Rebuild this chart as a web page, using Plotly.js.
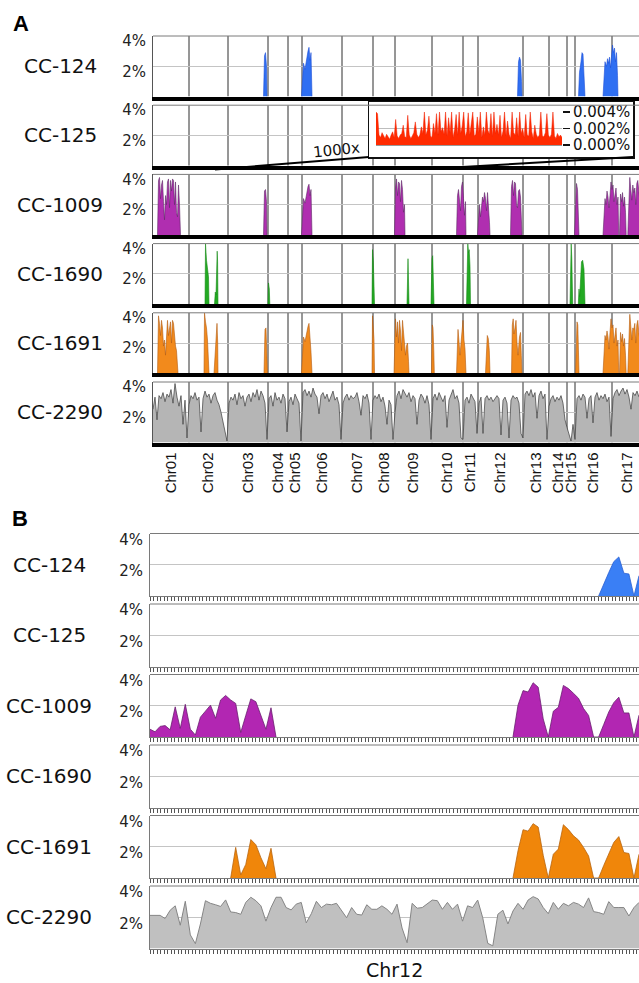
<!DOCTYPE html>
<html><head><meta charset="utf-8">
<script src="https://cdn.plot.ly/plotly-3.0.1.min.js"></script>
<style>html,body{margin:0;padding:0;background:#fff}#chart{width:639px;height:983px}</style>
</head><body><div id="chart"></div>
<script>
// ---------------- DATA ----------------
const samples = ['CC-124','CC-125','CC-1009','CC-1690','CC-1691','CC-2290'];
const chromNames = ['Chr01','Chr02','Chr03','Chr04','Chr05','Chr06','Chr07','Chr08','Chr09','Chr10','Chr11','Chr12','Chr13','Chr14','Chr15','Chr16','Chr17'];
// chromosome lengths in genome map bins (~225 kb each)
const chromLen = [36,39,40,20,14,40,31,22,37,31,15,45,26,18,8,37,30];
const genomeShown = 486; // bins visible in panel A
const pctTicks = [2,4];
const pctTickText = ['2%','4%'];

// Panel A (whole genome), % per position (bins)
const A124Pos = [110.5,111.5,112.5,113.5,114,null,148.5,149.5,150.5,152,153.5,155,156,157,158,159,null,364.5,365.5,366.5,367.5,368.5,369,null,425.5,426.5,428,429,430,431,432,null,450,451,452,453.5,454.5,455.5,456.5,457.5,458.5,459.5,460.5,461.5,462.5,463.5,464.5,465];
const A124Pct = [0,2.7,2.9,2.0,0,null,0,1.5,2.2,1.8,2.6,3.0,3.25,2.4,2.9,0,null,0,2.3,2.6,2.4,1.0,0,null,0,1.6,2.3,2.9,2.8,1.5,0,null,0,1.8,2.3,2.0,2.5,2.2,2.6,1.9,3.1,3.4,2.9,3.2,2.3,2.9,1.4,0];

const A1009Pos = [4.5,5.5,6.5,7.5,8.5,9.5,10.5,11.5,12.5,13.5,14.5,15.5,16.5,17.5,18.5,19.5,20.5,21.5,22.5,23.5,24.5,25.5,26.5,27.5,null,
110.5,111.5,112.5,113.5,114,null,
148.5,149.5,150.5,152,153.5,155,156,157,158,159,null,
241.5,242.5,243.5,244.5,245.5,246.5,247.5,248.5,249.5,250.5,251.5,252,null,
303.5,304.5,305.5,306.5,307.5,308.5,309.5,310.5,311.5,312.5,313,null,
324.5,325.5,326.5,327.5,328.5,329.5,330.5,331.5,332.5,333.5,334.5,335.5,336.5,337,null,
357.5,358.5,359.5,360.5,361.5,362.5,363.5,364.5,365.5,366.5,367.5,368.5,369,null,
421.5,422.5,423.5,424.5,425.5,426,null,
450,451,452,453,454,455,456,457,458,459,460,461,462,463,464,465,465.7,null,
466.5,467.5,468.5,469.5,470.5,471.5,472.5,473.2,null,
474.8,475.8,476.8,477.8,478.8,479.8,480.8,481.8,482.8,483.8,484.8,485.8,486.5];
const A1009Pct = [0,3.6,3.8,2.4,3.3,3.6,2.2,1.0,2.6,2.0,3.5,3.7,1.8,3.6,2.9,3.7,3.6,2.0,3.5,1.5,1.2,3.3,2.0,0,null,
0,2.9,3.0,2.2,0,null,
0,1.8,2.4,2.1,2.8,3.2,3.35,2.6,3.0,0,null,
0,3.1,3.7,2.6,3.5,3.4,2.2,3.6,3.0,1.5,2.0,0,null,
0,2.6,3.0,2.0,1.6,3.2,3.5,2.4,1.3,2.2,0,null,
0,1.4,2.0,1.2,1.8,2.5,2.2,2.8,2.4,1.6,2.8,2.0,0.8,0,null,
0,3.2,3.6,2.6,3.5,3.4,2.0,1.8,2.9,3.0,2.5,1.0,0,null,
0,2.5,3.4,3.0,1.6,0,null,
0,1.6,2.4,2.0,2.9,2.5,1.8,2.6,3.5,3.0,3.3,2.2,2.8,3.1,2.0,2.5,0,null,
0,2.7,2.2,2.8,1.9,2.5,1.5,0,null,
0,2.6,3.8,3.0,2.3,3.3,2.8,3.1,2.0,3.4,3.6,2.9,2.5];

const A1690Pos = [52,52.5,53.5,54.5,55.5,56,null,61.5,62.3,63,63.5,64.2,64.6,65,null,115,115.5,116.3,116.8,null,219,219.5,220.3,221,221.5,null,254,254.5,255,255.7,256,null,278,278.5,279,279.7,280.3,281,null,313.5,314.2,314.8,315.5,316.2,317,317.5,null,417,417.5,418.2,418.8,419.3,419.7,null,425.3,426,426.7,427.5,428.5,429.7,431,432];
const A1690Pct = [0,4.0,2.9,2.5,1.8,0,null,0,0.8,0.6,2.5,3.5,2.8,0,null,0,1.4,1.0,0,null,0,3.6,2.9,1.0,0,null,0,2.5,3.0,1.0,0,null,0,2.0,3.0,3.2,1.5,0,null,0,3.0,4.0,3.4,3.6,2.5,0,null,0,2.0,4.0,3.0,1.0,0,null,0,1.0,0.5,2.0,2.8,2.9,2.3,0];

const A1691Pos = [4.5,5.5,6.5,7.5,8.5,9.5,10.5,11.5,12.5,13.5,14.5,15.5,16.5,17.5,18.5,19.5,20.5,21.5,22.5,23.5,24.5,25,null,
51,51.5,52.5,53.5,54.5,55.5,56,null,
61,62,63,64,64.7,65,null,
111,112,113,114,114.5,null,
148.5,149.5,150.5,152,153.5,155,156,157,158,159,null,
219,219.5,220.3,221,221.5,null,
241,241.5,242.5,243.5,244.5,245.5,246.5,247.5,248.5,249.5,250.5,251.5,252.5,253.5,254.5,255.5,256,null,
278.5,279.3,280,280.8,281.3,null,
303.5,304.3,305,306,307,308,309,310,311,312,313,null,
332.5,333.3,334.3,335.3,336.3,337,null,
358.5,359.3,360.2,361,362,363,364,365,366.5,367.5,368.3,369,null,
422.5,423.3,424,424.8,425.5,426,null,
450,451,452,453,454,455,456,457,458,459,460,461,462,463,464,465,465.7,null,
466.5,467.5,468.5,469.5,470.5,471.5,472.5,473.2,null,
474.8,475.8,476.8,477.8,478.8,479.8,480.8,481.8,482.8,483.8,484.8,485.8,486.5];
const A1691Pct = [0,3.8,3.3,2.5,3.5,3.0,1.8,2.2,1.2,2.8,3.5,2.5,3.1,3.4,2.0,3.5,3.3,2.2,1.8,1.5,0.8,0,null,
0,4.0,3.4,3.0,2.2,1.2,0,null,
0,1.3,2.5,3.3,2.0,0,null,
0,2.9,3.0,1.5,0,null,
0,1.9,2.4,2.1,2.7,3.1,3.3,2.6,1.4,0,null,
0,3.8,3.0,2.2,0,null,
0,2.0,3.6,2.4,3.4,2.0,3.5,2.8,1.5,3.5,2.7,1.8,1.2,1.8,2.0,0.8,0,null,
0,3.2,3.0,1.5,0,null,
0,2.4,2.9,2.1,1.2,2.0,3.0,3.5,2.2,1.6,0,null,
0,1.5,2.5,2.3,1.5,0,null,
0,3.2,3.6,2.6,3.0,3.5,2.0,1.2,2.4,2.7,1.2,0,null,
0,2.4,3.4,3.2,1.2,0,null,
0,1.5,2.5,2.2,2.8,2.4,1.6,2.7,3.6,3.0,3.2,2.0,2.6,3.0,1.8,2.2,0,null,
0,2.7,2.1,2.6,1.8,2.3,1.2,0,null,
0,2.8,3.9,3.1,2.2,3.0,2.9,3.3,2.0,3.2,3.5,2.7,2.4];

// CC-2290: one value every 2 bins from bin 0
const A2290Pct = [2.2,3.0,1.5,3.1,2.9,3.3,2.7,3.2,3.0,3.5,2.6,3.9,3.0,2.4,3.1,1.2,2.8,0.3,
2.5,3.1,2.9,3.3,2.8,3.0,0.7,2.9,3.4,3.0,3.2,2.6,3.1,3.3,2.8,2.5,2.0,1.4,0.8,0.1,
2.6,3.0,2.8,3.2,2.5,3.3,2.9,3.1,2.4,3.0,3.2,2.7,3.3,3.0,3.5,2.8,3.4,3.1,2.6,0.2,
2.9,3.1,2.4,3.3,2.8,3.0,2.6,3.2,2.9,0.7,
2.7,3.0,2.5,3.2,2.9,2.6,0.1,
3.3,3.5,3.1,3.4,3.0,3.6,3.2,3.0,1.9,3.1,3.3,2.9,3.2,2.7,3.1,3.4,2.8,3.0,2.5,0.2,
2.6,3.0,3.2,2.8,3.1,2.9,3.0,3.3,2.7,1.8,3.1,2.9,3.2,2.6,0.2,
2.8,3.1,2.9,3.2,2.7,3.0,2.4,1.2,2.8,2.5,0.2,
2.0,3.1,3.4,2.9,3.5,3.2,3.0,3.3,2.7,3.1,2.9,1.2,2.8,3.2,3.0,2.6,3.1,2.5,0.2,
2.9,3.2,2.8,3.3,3.0,2.7,3.1,1.0,2.8,3.2,3.5,2.9,3.1,2.6,0.3,
0.2,2.8,3.0,2.6,3.2,2.9,2.7,0.6,
2.6,3.0,0.6,2.9,3.1,2.8,3.0,2.7,2.9,3.1,2.9,0.5,2.8,3.0,2.6,0.3,2.8,3.1,2.9,3.0,2.6,0.6,
0.3,3.2,3.4,3.1,3.5,3.0,3.3,1.6,3.1,3.4,2.9,3.2,0.2,
2.4,2.9,3.1,2.7,3.0,2.8,3.1,2.6,1.5,
1.0,0.5,0.1,1.2,
0.2,2.9,3.1,2.8,3.2,3.0,1.6,2.9,3.1,1.3,3.0,3.3,2.8,3.1,2.9,3.2,2.7,3.0,0.4,
2.9,3.3,3.5,3.1,3.4,3.6,3.2,3.5,3.0,2.2,3.3,3.1,3.4,3.0];

// CC-125 inset (1000x), % values, one every 4 bins
const A125Pct = [0.004,0.0038,0.0012,0.0009,0.0015,0.0011,0.0008,0.0013,0.001,0.0007,0.0012,0.0016,0.0009,0.0031,0.0011,0.0008,0.0012,0.0014,0.0024,0.001,0.0009,0.0036,0.0012,0.0008,0.0011,0.0015,0.0028,0.0013,0.0009,0.0012,0.0022,0.0014,0.004,0.0012,0.0018,0.0035,0.0011,0.0009,0.0026,0.0014,0.0038,0.0012,0.004,0.0016,0.0021,0.0013,0.004,0.0011,0.0033,0.0015,0.004,0.0009,0.0019,0.0037,0.0012,0.004,0.0014,0.0023,0.004,0.001,0.0016,0.0039,0.0012,0.0028,0.004,0.0011,0.0013,0.0034,0.0015,0.004,0.0009,0.0022,0.0012,0.004,0.0018,0.0013,0.0038,0.001,0.004,0.0014,0.0025,0.0012,0.0036,0.0009,0.0017,0.004,0.0011,0.0029,0.0013,0.0008,0.004,0.0015,0.0012,0.0033,0.001,0.004,0.0014,0.002,0.0009,0.0037,0.0012,0.0011,0.004,0.0016,0.0008,0.0024,0.0013,0.0009,0.0012,0.004,0.0011,0.001,0.0015,0.0038,0.0012,0.0009,0.0013,0.004,0.0011,0.0008,0.0014,0.001,0.0012,0.0009];
const insetTicks = [0,0.002,0.004];
const insetTickText = ['0.000%','0.002%','0.004%'];

// Panel B (Chr12, Mb)
const chr12Len = 9.7;
const B124Pos = [8.9,9.0,9.1,9.2,9.3,9.4,9.5,9.6,9.7];
const B124Pct = [0,0.8,1.5,2.2,2.5,1.46,1.41,0,1.3];
const B1009Pos = [0,0.1,0.2,0.3,0.4,0.5,0.6,0.7,0.8,0.9,1.0,1.1,1.2,1.3,1.4,1.5,1.6,1.7,1.8,1.9,2.0,2.1,2.2,2.3,2.4,2.5,null,7.2,7.3,7.4,7.5,7.6,7.7,7.8,7.9,8.0,8.1,8.2,8.3,8.4,8.5,8.6,8.7,8.8,8.9,9.0,9.1,9.2,9.3,9.4,9.5,9.6,9.7];
const B1009Pct = [0.5,0.33,0.68,0.73,0.46,1.93,0.55,2.09,0.5,0.13,1.27,1.65,2.04,1.2,2.37,2.66,2.37,2.15,0.29,1.38,2.44,2.26,1.38,0.5,1.87,0,null,0,2.04,2.97,2.88,3.47,3.19,1.16,0,1.65,1.9,3.3,3.1,2.8,2.48,1.82,1.38,0,0,0.8,1.6,2.2,2.55,1.54,1.54,0,1.4];
const B1691Pos = [1.6,1.7,1.8,1.9,2.0,2.1,2.2,2.3,2.4,2.5,null,7.2,7.3,7.4,7.5,7.6,7.7,7.8,7.9,8.0,8.1,8.2,8.3,8.4,8.5,8.6,8.7,8.8,8.9,9.0,9.1,9.2,9.3,9.4,9.5,9.6,9.7];
const B1691Pct = [0,1.96,0.2,0.87,2.46,2.13,1.3,0.59,1.9,0,null,0,1.74,3.09,3.0,3.48,3.26,1.45,0,1.52,1.85,3.41,3.1,2.7,2.43,1.96,1.41,0,0,0.8,1.6,2.28,2.65,1.63,1.57,0,1.52];
// CC-2290, 100-kb windows from 0 Mb
const B2290Pct = [2.12,2.12,2.12,1.92,2.45,2.73,1.49,3.02,0.87,0.31,1.57,3.06,2.89,2.8,2.69,3.11,2.34,2.3,2.19,2.95,3.28,3.06,2.73,1.75,2.62,3.28,3.28,2.62,2.47,2.84,2.95,1.64,2.23,3.02,
2.62,2.84,2.8,2.89,2.4,1.97,2.62,2.19,2.14,2.8,2.51,2.51,2.73,2.51,2.19,2.84,1.31,0.37,2.89,2.58,2.62,2.84,3.1,3.06,2.51,2.95,2.51,2.84,1.75,2.73,2.62,3.1,1.97,0.33,0.17,2.19,2.45,1.57,2.4,2.89,2.51,3.1,3.32,3.17,2.62,2.23,2.95,2.51,2.89,2.73,2.95,2.84,2.62,3.24,2.36,2.3,2.19,3.0,2.62,2.62,2.62,2.08,2.62,2.95];

// ---------------- LAYOUT ----------------
const W = 639, H = 983;
const fx = px => px / W;
const fy = py => 1 - py / H;

const bounds = []; const centers = [];
let acc = 0;
chromLen.forEach(L => { centers.push(acc + L / 2); acc += L; bounds.push(acc); });

const layout = {
  width: W, height: H, margin: {l:0, r:0, t:0, b:0},
  paper_bgcolor: '#fff', plot_bgcolor: '#fff', showlegend: false, hovermode: false,
  font: {family: 'DejaVu Sans', color: '#111'},
  shapes: [], annotations: []
};
const traces = [];

const colA = {
  'CC-124': {fill:'#2f6ff2', line:'#1d4fd6'},
  'CC-1009': {fill:'#b02eb0', line:'#5e2a66'},
  'CC-1690': {fill:'#22aa22', line:'#148a14'},
  'CC-1691': {fill:'#f28a1c', line:'#b35d12'},
  'CC-2290': {fill:'#b5b5b5', line:'#3a3a3a'}
};

function axName(n, k){ return n === 1 ? k : k + n; }

// Panel A rows
const aTop0 = 36, aStep = 69.2, aH = 60.5, aLeft = 153;
const aData = {
  'CC-124': {x:A124Pos, y:A124Pct},
  'CC-1009': {x:A1009Pos, y:A1009Pct},
  'CC-1690': {x:A1690Pos, y:A1690Pct},
  'CC-1691': {x:A1691Pos, y:A1691Pct}
};
samples.forEach((s, i) => {
  const n = i + 1;
  const top = aTop0 + aStep * i, bot = top + aH;
  const xa = axName(n,'x'), ya = axName(n,'y');
  layout[axName(n,'xaxis')] = {
    domain:[fx(aLeft), 1], range:[0, genomeShown], anchor: ya, fixedrange:true,
    showgrid:false, zeroline:false, showline:true, linecolor:'#000', linewidth:4,
    ticks:'', showticklabels: i === 5, tickmode:'array', tickvals: centers, ticktext: chromNames,
    tickangle:-90, tickfont:{family:'Liberation Sans', size:15, color:'#111'}
  };
  layout[axName(n,'yaxis')] = {
    domain:[fy(bot), fy(top)], range:[0,4], anchor: xa, fixedrange:true,
    tickmode:'array', tickvals: pctTicks, ticktext: pctTickText, ticks:'',
    showgrid:true, gridcolor:'#c4c4c4', gridwidth:1, zeroline:false,
    showline:true, linecolor:'#555', linewidth:1,
    tickfont:{size:15, color:'#222'}, ticklabelshift:5, ticklabelstandoff:3
  };
  bounds.forEach(b => {
    if (b < genomeShown) layout.shapes.push({type:'line', xref:xa, yref:ya, x0:b, x1:b, y0:0, y1:4, layer:'below', line:{color:'#2e2e2e', width:1}});
  });
  layout.shapes.push({type:'line', xref:'paper', yref:'paper', x0:fx(aLeft), x1:1, y0:fy(top), y1:fy(top), line:{color:'#7a7a7a', width:1}});
  layout.annotations.push({xref:'paper', yref:'paper', x:fx(60), y:fy((top+bot)/2), text:s, showarrow:false, xanchor:'center', yanchor:'middle', font:{size:20, family:'DejaVu Sans', color:'#111'}});
  if (s === 'CC-2290') {
    traces.push({type:'scatter', mode:'lines', x0:0, dx:2, y:A2290Pct, xaxis:xa, yaxis:ya, fill:'tozeroy', fillcolor:colA[s].fill, line:{color:colA[s].line, width:0.7}});
  } else if (aData[s]) {
    traces.push({type:'scatter', mode:'lines', x:aData[s].x, y:aData[s].y, xaxis:xa, yaxis:ya, fill:'tozeroy', fillcolor:colA[s].fill, line:{color:colA[s].line, width:0.6}});
  } else {
    traces.push({type:'scatter', mode:'lines', x:[], y:[], xaxis:xa, yaxis:ya});
  }
});

// Panel B rows
const bTop0 = 533.5, bStep = 70.5, bH = 62.5, bLeft = 150;
const colB = {
  'CC-124': {fill:'#3a7ff5', line:'#2a5fd2'},
  'CC-1009': {fill:'#b226b2', line:'#6a2070'},
  'CC-1691': {fill:'#f0860a', line:'#b8650f'},
  'CC-2290': {fill:'#c0c0c0', line:'#858585'}
};
const bData = {
  'CC-124': {x:B124Pos, y:B124Pct},
  'CC-1009': {x:B1009Pos, y:B1009Pct},
  'CC-1691': {x:B1691Pos, y:B1691Pct}
};
samples.forEach((s, i) => {
  const n = i + 7;
  const top = bTop0 + bStep * i, bot = top + bH;
  const xa = 'x' + n, ya = 'y' + n;
  layout['xaxis' + n] = {
    domain:[fx(bLeft), 1], range:[0, chr12Len], anchor: ya, fixedrange:true,
    showgrid:false, zeroline:false, showline:true, linecolor:'#7a7a7a', linewidth:1,
    ticks:'outside', ticklen:4, tickwidth:1, tickcolor:'#555', tickmode:'linear', tick0:0, dtick:0.07,
    showticklabels:false
  };
  layout['yaxis' + n] = {
    domain:[fy(bot), fy(top)], range:[0,4], anchor: xa, fixedrange:true,
    tickmode:'array', tickvals: pctTicks, ticktext: pctTickText, ticks:'',
    showgrid:true, gridcolor:'#c4c4c4', gridwidth:1, zeroline:false,
    showline:true, linecolor:'#7a7a7a', linewidth:1,
    tickfont:{size:15, color:'#222'}, ticklabelshift:6, ticklabelstandoff:3
  };
  layout.shapes.push({type:'line', xref:'paper', yref:'paper', x0:fx(bLeft), x1:1, y0:fy(top), y1:fy(top), line:{color:'#7a7a7a', width:1}});
  layout.annotations.push({xref:'paper', yref:'paper', x:fx(49), y:fy((top+bot)/2), text:s, showarrow:false, xanchor:'center', yanchor:'middle', font:{size:20, family:'DejaVu Sans', color:'#111'}});
  if (s === 'CC-2290') {
    traces.push({type:'scatter', mode:'lines', x0:0, dx:0.1, y:B2290Pct, xaxis:xa, yaxis:ya, fill:'tozeroy', fillcolor:colB[s].fill, line:{color:colB[s].line, width:1}});
  } else if (bData[s]) {
    traces.push({type:'scatter', mode:'lines', x:bData[s].x, y:bData[s].y, xaxis:xa, yaxis:ya, fill:'tozeroy', fillcolor:colB[s].fill, line:{color:colB[s].line, width:0.8}});
  } else {
    traces.push({type:'scatter', mode:'lines', x:[], y:[], xaxis:xa, yaxis:ya});
  }
});

// Inset box (x13) and inset plot (x14) over the CC-125 row
layout.xaxis13 = {domain:[fx(369), fx(633)], range:[0,1], anchor:'y13', showgrid:false, zeroline:false, showticklabels:false, ticks:'', showline:true, mirror:true, linecolor:'#111', linewidth:1.5, fixedrange:true};
layout.yaxis13 = {domain:[fy(157), fy(102)], range:[0,1], anchor:'x13', showgrid:false, zeroline:false, showticklabels:false, ticks:'', showline:true, mirror:true, linecolor:'#111', linewidth:1.5, fixedrange:true};
traces.push({type:'scatter', mode:'lines', x:[], y:[], xaxis:'x13', yaxis:'y13'});
layout.xaxis14 = {domain:[fx(376), fx(562)], range:[0, (A125Pct.length - 1) * 4], anchor:'y14', showgrid:false, zeroline:false, showticklabels:false, ticks:'', showline:true, linecolor:'#999', linewidth:1, fixedrange:true};
layout.yaxis14 = {domain:[fy(145), fy(112)], range:[0,0.004], anchor:'x14', side:'right', tickmode:'array', tickvals: insetTicks, ticktext: insetTickText,
  ticks:'outside', ticklen:7, tickwidth:1.2, tickcolor:'#111', showgrid:true, gridcolor:'#bdbdbd', zeroline:false, showline:false,
  tickfont:{size:15, color:'#111'}, fixedrange:true};
traces.push({type:'scatter', mode:'lines', x0:0, dx:4, y:A125Pct, xaxis:'x14', yaxis:'y14', fill:'tozeroy', fillcolor:'#ff2a00', line:{color:'#f02000', width:0.5}});

// zoom wedge
layout.shapes.push({type:'line', xref:'paper', yref:'paper', x0:fx(215), y0:fy(169.5), x1:fx(369), y1:fy(157), layer:'above', line:{color:'#000', width:2}});
layout.shapes.push({type:'line', xref:'paper', yref:'paper', x0:fx(445), y0:fy(168), x1:fx(633), y1:fy(157), layer:'above', line:{color:'#000', width:2}});
layout.annotations.push({xref:'paper', yref:'paper', x:fx(336), y:fy(150), text:'1000x', showarrow:false, textangle:-6, xanchor:'center', yanchor:'middle', font:{size:15, family:'DejaVu Sans', color:'#111'}});

// panel letters and Chr12 title
layout.annotations.push({xref:'paper', yref:'paper', x:fx(21), y:fy(24), text:'<b>A</b>', showarrow:false, xanchor:'center', yanchor:'middle', font:{size:22, family:'Liberation Sans', color:'#000'}});
layout.annotations.push({xref:'paper', yref:'paper', x:fx(20), y:fy(518), text:'<b>B</b>', showarrow:false, xanchor:'center', yanchor:'middle', font:{size:22, family:'Liberation Sans', color:'#000'}});
layout.annotations.push({xref:'x12 domain', yref:'paper', x:0.5, y:fy(970), text:'Chr12', showarrow:false, xanchor:'center', yanchor:'middle', font:{size:19, family:'DejaVu Sans', color:'#111'}});

Plotly.newPlot('chart', traces, layout, {staticPlot:true, displayModeBar:false});
</script>
</body></html>
